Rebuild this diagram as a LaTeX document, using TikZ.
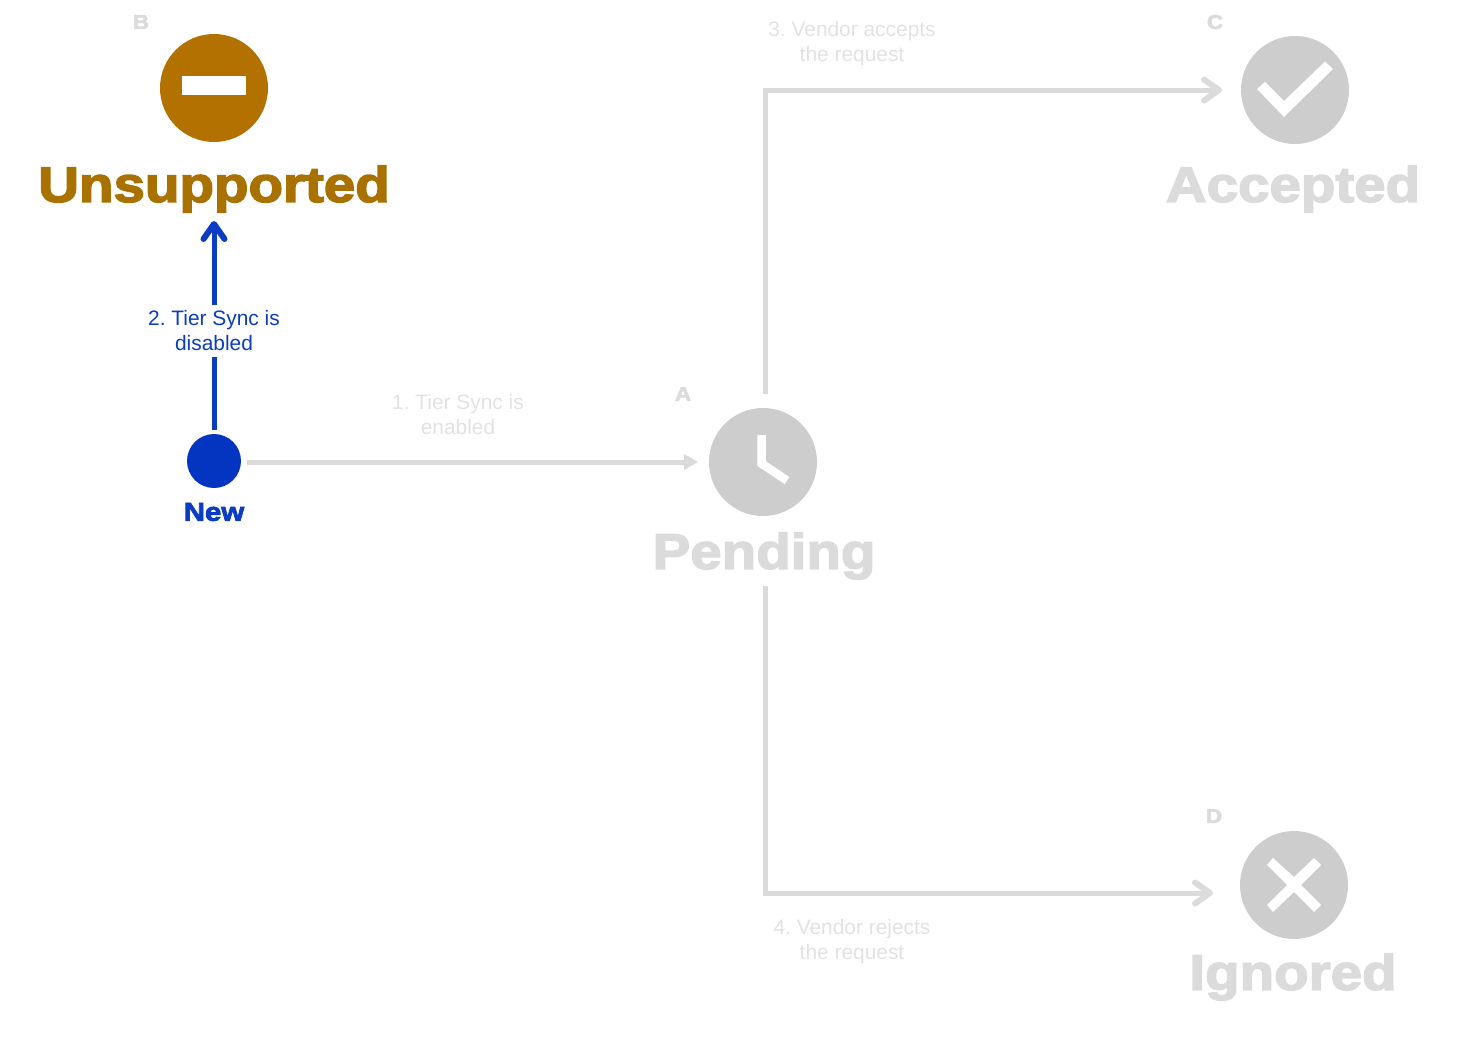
\documentclass[tikz,border=0pt]{standalone}
\usepackage{fontspec}
\setmainfont{Liberation Sans}
\newfontfamily\blackfont[FakeStretch=1.13,FakeBold=3]{Liberation Sans Bold}
\usetikzlibrary{arrows.meta}
\definecolor{newblue}{HTML}{0335C1}
\definecolor{labelblue}{HTML}{0A3CC4}
\definecolor{unsupbrown}{HTML}{B37100}
\definecolor{unsuptext}{HTML}{A97200}
\definecolor{iconfill}{HTML}{CDCDCD}
\definecolor{fadeline}{HTML}{DBDBDB}
\definecolor{fadetext}{HTML}{E2E2E2}
\tikzset{
  statusicon/.style={circle,minimum size=108pt,inner sep=0pt,fill=iconfill},
  statusname/.style={font=\blackfont\fontsize{50}{50}\selectfont,text=fadeline,inner sep=0pt},
  lettertag/.style={font=\blackfont\fontsize{20}{20}\selectfont,text=fadeline,inner sep=0pt},
  steplabel/.style={font=\frenchspacing\fontsize{20.9}{25}\selectfont,align=center,text=fadetext,inner sep=0pt},
  fadelink/.style={draw=fadeline,line width=5pt},
  bluelink/.style={draw=labelblue,line width=5pt},
  openhead/.style={-{Straight Barb[length=15pt,width=21pt,line width=6pt,round]}}
}
\begin{document}
\begin{tikzpicture}[x=1pt,y=-1pt]
    \useasboundingbox (0,0) rectangle (1462,1042);
    % state icons
    \node[statusicon,fill=unsupbrown] (unsupIcon) at (214,88) {};
    \node[statusicon] (pendIcon) at (763,462) {};
    \node[statusicon] (acceptIcon) at (1295,90) {};
    \node[statusicon] (ignoreIcon) at (1294,885) {};
    \node[circle,minimum size=54pt,inner sep=0pt,fill=newblue] (newIcon) at (214,461) {};
    % glyphs inside the icons
    \fill[white] (182,76) rectangle (246,95);
    \draw[white,line width=8.5pt] (761.5,435) -- (761.5,463.5) -- (787,480.5);
    \fill[white] (1265,82) -- (1284,101) -- (1325,61.5) -- (1333,69) -- (1284,117) -- (1257,89) -- cycle;
    \fill[white] (1273,858) -- (1294,877) -- (1314,858) -- (1321,865) -- (1301,885) -- (1321,905)
        -- (1314,912) -- (1294,892) -- (1273,912) -- (1267,905) -- (1287,885) -- (1267,865) -- cycle;
    % names
    \node[statusname,text=unsuptext] (unsupName) at (214,189) {Unsupported};
    \node[statusname] (pendName) at (764,556) {Pending};
    \node[statusname] (acceptName) at (1293,189) {Accepted};
    \node[statusname] (ignoreName) at (1293,977) {Ignored};
    \node[font=\blackfont\fontsize{26}{26}\selectfont,text=labelblue,inner sep=0pt] (newName) at (214,512) {New};
    % letters
    \node[lettertag] (tagA) at (683,394) {A};
    \node[lettertag] (tagB) at (141,22) {B};
    \node[lettertag] (tagC) at (1215,22) {C};
    \node[lettertag] (tagD) at (1214,816) {D};
    % step labels
    \node[steplabel] (stepOne) at (458,415) {1. Tier Sync is\\enabled};
    \node[steplabel,text=labelblue,outer sep=6pt] (stepTwo) at (214,331) {2. Tier Sync is\\disabled};
    \node[steplabel] (stepThree) at (852,43.5) {3. Vendor accepts\\the request};
    \node[steplabel] (stepFour) at (852,942) {4. Vendor rejects\\the request};
    % connectors
    \coordinate (acceptIn) at (1222,90);
    \coordinate (ignoreIn) at (1213,893);
    \coordinate (pendTop) at (765,394);
    \coordinate (pendLow) at (765,586);
    \coordinate (newOut) at (247,462);
    \coordinate (pendIn) at (698,462);
    \coordinate (newTop) at (214,430);
    \coordinate (unsupIn) at (214,221);
    \draw[fadelink,-{Triangle[length=14pt,width=15pt]}] (newOut) -- (pendIn);
    \draw[fadelink,openhead] (pendTop) |- (acceptIn);
    \draw[fadelink,openhead] (pendLow) |- (ignoreIn);
    \draw[bluelink] (newTop) -- (stepTwo.south);
    \draw[bluelink,openhead] (stepTwo.north) -- (unsupIn);
\end{tikzpicture}
\end{document}
